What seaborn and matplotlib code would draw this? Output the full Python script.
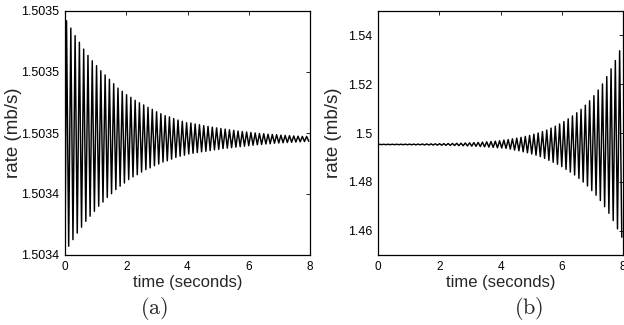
import numpy as np
import pandas as pd
import seaborn as sns
import matplotlib.pyplot as plt

# times of the successive extrema (peak, trough, peak, ...) in seconds
t_extrema = [
    0.05, 0.12, 0.19, 0.26, 0.33, 0.40, 0.47, 0.54, 0.61, 0.68,
    0.75, 0.82, 0.89, 0.96, 1.03, 1.10, 1.17, 1.24, 1.31, 1.38,
    1.45, 1.52, 1.59, 1.66, 1.73, 1.80, 1.87, 1.94, 2.01, 2.08,
    2.15, 2.22, 2.29, 2.36, 2.43, 2.50, 2.57, 2.64, 2.71, 2.78,
    2.85, 2.92, 2.99, 3.06, 3.13, 3.20, 3.27, 3.34, 3.41, 3.48,
    3.55, 3.62, 3.69, 3.76, 3.83, 3.90, 3.97, 4.04, 4.11, 4.18,
    4.25, 4.32, 4.39, 4.46, 4.53, 4.60, 4.67, 4.74, 4.81, 4.88,
    4.95, 5.02, 5.09, 5.16, 5.23, 5.30, 5.37, 5.44, 5.51, 5.58,
    5.65, 5.72, 5.79, 5.86, 5.93, 6.00, 6.07, 6.14, 6.21, 6.28,
    6.35, 6.42, 6.49, 6.56, 6.63, 6.70, 6.77, 6.84, 6.91, 6.98,
    7.05, 7.12, 7.19, 7.26, 7.33, 7.40, 7.47, 7.54, 7.61, 7.68,
    7.75, 7.82, 7.89, 7.96,
]

# (a) damped oscillation
start_a = 1.5034000
peaks_a = [
    1.5034960, 1.5034930, 1.5034899, 1.5034872, 1.5034844, 1.5034818,
    1.5034796, 1.5034776, 1.5034755, 1.5034738, 1.5034720, 1.5034702,
    1.5034684, 1.5034671, 1.5034657, 1.5034646, 1.5034634, 1.5034624,
    1.5034615, 1.5034605, 1.5034597, 1.5034587, 1.5034579, 1.5034571,
    1.5034566, 1.5034559, 1.5034553, 1.5034548, 1.5034542, 1.5034541,
    1.5034537, 1.5034534, 1.5034530, 1.5034527, 1.5034524, 1.5034521,
    1.5034518, 1.5034516, 1.5034513, 1.5034511, 1.5034508, 1.5034506,
    1.5034504, 1.5034502, 1.5034500, 1.5034498, 1.5034497, 1.5034495,
    1.5034494, 1.5034493, 1.5034491, 1.5034490, 1.5034489, 1.5034488,
    1.5034487, 1.5034486, 1.5034486,
]
troughs_a = [
    1.5034036, 1.5034063, 1.5034090, 1.5034114, 1.5034138, 1.5034159,
    1.5034179, 1.5034200, 1.5034217, 1.5034236, 1.5034251, 1.5034268,
    1.5034282, 1.5034295, 1.5034309, 1.5034320, 1.5034329, 1.5034340,
    1.5034350, 1.5034357, 1.5034366, 1.5034373, 1.5034381, 1.5034386,
    1.5034393, 1.5034400, 1.5034405, 1.5034409, 1.5034414, 1.5034417,
    1.5034420, 1.5034423, 1.5034425, 1.5034428, 1.5034431, 1.5034433,
    1.5034436, 1.5034438, 1.5034440, 1.5034442, 1.5034444, 1.5034446,
    1.5034448, 1.5034450, 1.5034452, 1.5034453, 1.5034455, 1.5034456,
    1.5034458, 1.5034459, 1.5034460, 1.5034461, 1.5034462, 1.5034463,
    1.5034464, 1.5034465, 1.5034466,
]

# (b) growing oscillation
start_b = 1.4953
peaks_b = [
    1.49536, 1.49537, 1.49538, 1.49539, 1.49540, 1.49541, 1.49542, 1.49544,
    1.49545, 1.49547, 1.49550, 1.49552, 1.49554, 1.49557, 1.49561, 1.49565,
    1.49569, 1.49573, 1.49579, 1.49584, 1.49591, 1.49598, 1.49607, 1.49616,
    1.49626, 1.49638, 1.49651, 1.49665, 1.49682,
    1.4971, 1.4973, 1.4976, 1.4979, 1.4982, 1.4986, 1.4990, 1.4995, 1.5000,
    1.5006, 1.5012, 1.5020, 1.5028, 1.5037, 1.5047, 1.5058, 1.5070, 1.5083,
    1.5097, 1.5114, 1.5132, 1.5153, 1.5176, 1.5201, 1.5231, 1.5263, 1.5297,
    1.5337,
]
troughs_b = [
    1.49524, 1.49523, 1.49522, 1.49521, 1.49520, 1.49519, 1.49518, 1.49516,
    1.49515, 1.49513, 1.49510, 1.49508, 1.49506, 1.49503, 1.49499, 1.49495,
    1.49491, 1.49487, 1.49481, 1.49476, 1.49469, 1.49462, 1.49453, 1.49444,
    1.49434, 1.49422, 1.49409, 1.49395, 1.49385,
    1.4937, 1.4934, 1.4930, 1.4927, 1.4923, 1.4919, 1.4914, 1.4909, 1.4903,
    1.4896, 1.4888, 1.4880, 1.4872, 1.4862, 1.4851, 1.4840, 1.4828, 1.4814,
    1.4799, 1.4783, 1.4764, 1.4745, 1.4723, 1.4698, 1.4671, 1.4641, 1.4607,
    1.4573,
]

x_ticks = [0, 2, 4, 6, 8]
yticks_a = [1.50340, 1.503425, 1.50345, 1.503475, 1.50350]
yticklabels_a = ["1.5034", "1.5034", "1.5035", "1.5035", "1.5035"]
yticks_b = [1.46, 1.48, 1.50, 1.52, 1.54]
yticklabels_b = ["1.46", "1.48", "1.5", "1.52", "1.54"]


def make_frame(start, peaks, troughs):
    rates = [start] + [v for pair in zip(peaks, troughs) for v in pair]
    times = [0.0] + t_extrema
    return pd.DataFrame({"time": times, "rate": rates})


sns.set_style("white")
plt.rcParams["font.family"] = ["Liberation Sans", "DejaVu Sans"]
plt.rcParams["mathtext.fontset"] = "cm"

fig = plt.figure(figsize=(6.24, 3.25), dpi=100)
ax_a = fig.add_axes([65 / 624, 70 / 325, 245 / 624, 244 / 325])
ax_b = fig.add_axes([378 / 624, 70 / 325, 245 / 624, 244 / 325])

panels = [
    (ax_a, make_frame(start_a, peaks_a, troughs_a), (1.5034, 1.5035),
     yticks_a, yticklabels_a, -0.175),
    (ax_b, make_frame(start_b, peaks_b, troughs_b), (1.45, 1.55),
     yticks_b, yticklabels_b, -0.145),
]

for ax, df, ylim, yt, ytl, ylab_x in panels:
    sns.lineplot(data=df, x="time", y="rate", ax=ax, color="black",
                 linewidth=1.05, estimator=None)
    ax.set_xlim(0, 8)
    ax.set_ylim(*ylim)
    ax.set_xticks(x_ticks)
    ax.set_yticks(yt)
    ax.set_yticklabels(ytl)
    ax.tick_params(direction="in", length=3, width=0.6, top=True,
                   right=True, colors="black")
    ax.tick_params(axis="x", labelsize=8.5, pad=4)
    ax.tick_params(axis="y", labelsize=9, pad=4)
    for s in ax.spines.values():
        s.set_color("black")
        s.set_linewidth(0.9)
    ax.set_xlabel("time (seconds)", fontsize=12)
    ax.set_ylabel("rate (mb/s)", fontsize=13.5)
    ax.xaxis.set_label_coords(0.5, -0.083)
    ax.yaxis.set_label_coords(ylab_x, 0.5)

fig.text(154 / 624, 1 - 308 / 325, r"$\mathrm{(a)}$", fontsize=16,
         ha="center", va="center")
fig.text(529 / 624, 1 - 308 / 325, r"$\mathrm{(b)}$", fontsize=16,
         ha="center", va="center")

fig.savefig("out.png", dpi=100)
